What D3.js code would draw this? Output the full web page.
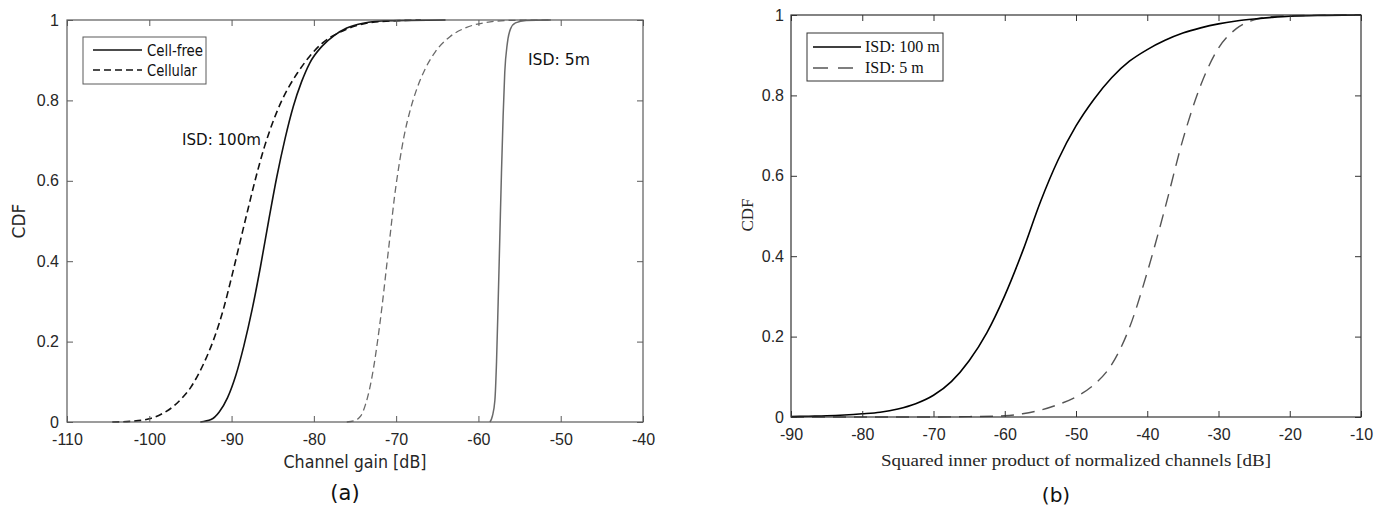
<!DOCTYPE html>
<html><head><meta charset="utf-8">
<script src="https://cdn.jsdelivr.net/npm/d3@7"></script>
<style>body{margin:0;background:#fff}svg{display:block}</style>
</head><body>
<svg id="chart" width="1375" height="508"></svg>
<script>
// ---------- DATA ----------
const leftXTicks = [-110, -100, -90, -80, -70, -60, -50, -40];
const rightXTicks = [-90, -80, -70, -60, -50, -40, -30, -20, -10];
const yTicks = [0, 0.2, 0.4, 0.6, 0.8, 1];

// Panel (a): channel gain CDFs  [dB, CDF]
const cellFree100 = [[-93.8,0],[-92.5,0.006],[-91.5,0.025],[-90.5,0.06],[-89.5,0.115],[-88.5,0.19],[-87.5,0.28],[-86.5,0.385],[-85.5,0.5],[-84.5,0.61],[-83.5,0.705],[-82.5,0.785],[-81.5,0.846],[-80.5,0.893],[-79,0.935],[-77.5,0.962],[-76,0.98],[-74,0.992],[-71,0.998],[-64,1.0]];
const cellular100 = [[-104.5,0],[-102,0.002],[-100,0.008],[-98.5,0.02],[-97,0.04],[-96,0.06],[-95,0.085],[-94,0.12],[-93,0.163],[-92,0.215],[-91,0.28],[-90,0.36],[-89,0.445],[-88,0.53],[-87,0.612],[-86,0.685],[-85,0.745],[-84,0.795],[-83,0.835],[-82,0.868],[-80.5,0.91],[-79,0.942],[-77,0.968],[-75,0.985],[-72,0.996],[-67,1.0]];
const cellular5 = [[-76,0],[-75,0.004],[-74.3,0.015],[-73.7,0.045],[-73.2,0.085],[-72.7,0.14],[-72.2,0.21],[-71.7,0.29],[-71.2,0.38],[-70.7,0.47],[-70.2,0.56],[-69.6,0.645],[-69,0.715],[-68.3,0.775],[-67.5,0.828],[-66.5,0.877],[-65.2,0.922],[-63.5,0.958],[-61.5,0.981],[-59,0.994],[-56,0.999],[-51.2,1.0]];
const cellFree5 = [[-58.6,0],[-58.3,0.015],[-58.0,0.054],[-57.8,0.15],[-57.6,0.3],[-57.4,0.46],[-57.2,0.62],[-57.0,0.76],[-56.8,0.87],[-56.5,0.94],[-56.1,0.978],[-55.5,0.993],[-54.2,0.999],[-51.2,1.0]];

// Panel (b): squared inner product CDFs  [dB, CDF]
const isd100 = [[-90,0.001],[-87.5,0.002],[-85,0.003],[-82.5,0.005],[-80,0.008],[-77.5,0.012],[-75,0.02],[-72.5,0.033],[-70,0.054],[-67.5,0.088],[-65,0.14],[-62.5,0.21],[-60,0.302],[-57.5,0.412],[-55,0.535],[-52.5,0.64],[-50,0.724],[-47.5,0.79],[-45,0.844],[-42.5,0.885],[-40,0.914],[-37.5,0.937],[-35,0.955],[-32.5,0.968],[-30,0.978],[-27.5,0.985],[-25,0.99],[-22.5,0.994],[-20,0.997],[-15,0.999],[-10,1.0]];
const isd5 = [[-90,0],[-70,0.0],[-65,0.001],[-60,0.003],[-57.5,0.008],[-55,0.017],[-52.5,0.031],[-50,0.05],[-47.5,0.08],[-45,0.13],[-42.5,0.222],[-40,0.36],[-37.5,0.52],[-35,0.69],[-32.5,0.825],[-30,0.918],[-27.5,0.966],[-25,0.988],[-22.5,0.996],[-20,0.998],[-15,0.9995],[-10,1.0]];

// ---------- DRAW ----------
const svg = d3.select("#chart");
const sansA = "DejaVu Sans";
const sansTick = "Liberation Sans";
const serif = "Liberation Serif";

function panel(opt) {
  const x = d3.scaleLinear().domain(opt.xDomain).range([opt.x0, opt.x1]);
  const y = d3.scaleLinear().domain([0, 1]).range([opt.y1, opt.y0]);
  const g = svg.append("g");
  const axisColor = opt.axisColor;

  const styleAxis = sel => {
    sel.select(".domain").remove();
    sel.selectAll(".tick line").attr("stroke", axisColor).attr("stroke-width", 1);
    sel.selectAll(".tick text").attr("fill", "#262626").style("font-family", sansTick).style("font-size", "16px");
  };

  const line = d3.line().x(d => x(d[0])).y(d => y(d[1])).curve(d3.curveMonotoneX);
  opt.series.forEach(s => {
    g.append("path").datum(s.data).attr("d", line)
      .attr("fill", "none").attr("stroke", s.color).attr("stroke-width", s.width)
      .attr("stroke-dasharray", s.dash || null);
  });

  g.append("g").attr("transform", `translate(0,${opt.y1})`)
    .call(d3.axisBottom(x).tickValues(opt.xTicks).tickSize(-6).tickPadding(opt.xPad).tickFormat(d => String(d)))
    .call(styleAxis);
  g.append("g").attr("transform", `translate(0,${opt.y0})`)
    .call(d3.axisTop(x).tickValues(opt.xTicks).tickSize(-6).tickFormat(""))
    .call(styleAxis);
  g.append("g").attr("transform", `translate(${opt.x0},0)`)
    .call(d3.axisLeft(y).tickValues(yTicks).tickSize(-6).tickPadding(opt.yPad).tickFormat(d => d === 0 || d === 1 ? String(d) : d3.format(".1f")(d)))
    .call(styleAxis);
  g.append("g").attr("transform", `translate(${opt.x1},0)`)
    .call(d3.axisRight(y).tickValues(yTicks).tickSize(-6).tickFormat(""))
    .call(styleAxis);

  g.append("rect").attr("x", opt.x0).attr("y", opt.y0)
    .attr("width", opt.x1 - opt.x0).attr("height", opt.y1 - opt.y0)
    .attr("fill", "none").attr("stroke", axisColor).attr("stroke-width", 1.2);
  return {g, x, y};
}

// Panel (a)
const pa = panel({
  xDomain: [-110, -40], x0: 67, x1: 643, y0: 20, y1: 422,
  xTicks: leftXTicks, xPad: 12, yPad: 8, axisColor: "#5a5a5a",
  series: [
    {data: cellular5, color: "#6a6a6a", width: 1.3, dash: "7,4"},
    {data: cellFree5, color: "#6a6a6a", width: 1.5},
    {data: cellular100, color: "#111", width: 1.6, dash: "7,4"},
    {data: cellFree100, color: "#111", width: 1.6}
  ]
});

pa.g.append("rect").attr("x", 83).attr("y", 37).attr("width", 123).attr("height", 47)
  .attr("fill", "#fff").attr("stroke", "#5a5a5a").attr("stroke-width", 1);
[["Cell-free", null, 50, 56], ["Cellular", "7,4", 70, 50]].forEach(([t, dash, yy, w]) => {
  pa.g.append("line").attr("x1", 93).attr("x2", 142).attr("y1", yy).attr("y2", yy)
    .attr("stroke", "#111").attr("stroke-width", 1.6).attr("stroke-dasharray", dash);
  pa.g.append("text").attr("x", 147).attr("y", yy + 5.5).text(t)
    .attr("textLength", w).attr("lengthAdjust", "spacingAndGlyphs")
    .style("font-family", sansA).style("font-size", "16px").attr("fill", "#111");
});

pa.g.append("text").attr("x", 182).attr("y", 145).text("ISD: 100m")
  .attr("textLength", 79).attr("lengthAdjust", "spacingAndGlyphs")
  .style("font-family", sansA).style("font-size", "16px").attr("fill", "#111");
pa.g.append("text").attr("x", 528).attr("y", 65).text("ISD: 5m")
  .attr("textLength", 62).attr("lengthAdjust", "spacingAndGlyphs")
  .style("font-family", sansA).style("font-size", "16px").attr("fill", "#111");

pa.g.append("text").attr("transform", "translate(25,221) rotate(-90)").attr("text-anchor", "middle")
  .text("CDF").style("font-family", sansA).style("font-size", "17px").attr("fill", "#262626");
pa.g.append("text").attr("x", 355).attr("y", 468).attr("text-anchor", "middle").text("Channel gain [dB]")
  .attr("textLength", 143).attr("lengthAdjust", "spacingAndGlyphs")
  .style("font-family", sansA).style("font-size", "17px").attr("fill", "#262626");
pa.g.append("text").attr("x", 345).attr("y", 500).attr("text-anchor", "middle").text("(a)")
  .style("font-family", sansA).style("font-size", "21px").attr("fill", "#111");

// Panel (b)
const pb = panel({
  xDomain: [-90, -10], x0: 791, x1: 1361, y0: 15, y1: 417,
  xTicks: rightXTicks, xPad: 12, yPad: 7, axisColor: "#333",
  series: [
    {data: isd5, color: "#555", width: 1.4, dash: "13,8"},
    {data: isd100, color: "#000", width: 1.6}
  ]
});

pb.g.append("rect").attr("x", 807).attr("y", 33).attr("width", 136).attr("height", 48)
  .attr("fill", "#fff").attr("stroke", "#333").attr("stroke-width", 1);
[["ISD: 100 m", null, 47, "#000"], ["ISD: 5 m", "15,10", 68, "#555"]].forEach(([t, dash, yy, c]) => {
  pb.g.append("line").attr("x1", 813).attr("x2", 861).attr("y1", yy).attr("y2", yy)
    .attr("stroke", c).attr("stroke-width", 1.6).attr("stroke-dasharray", dash);
  pb.g.append("text").attr("x", 865).attr("y", yy + 5).text(t)
    .style("font-family", serif).style("font-size", "16px").attr("fill", "#111");
});

pb.g.append("text").attr("transform", "translate(753,215) rotate(-90)").attr("text-anchor", "middle")
  .text("CDF").style("font-family", serif).style("font-size", "17px").attr("fill", "#262626");
pb.g.append("text").attr("x", 1076).attr("y", 466).attr("text-anchor", "middle")
  .text("Squared inner product of normalized channels [dB]")
  .attr("textLength", 390).attr("lengthAdjust", "spacingAndGlyphs")
  .style("font-family", serif).style("font-size", "17px").attr("fill", "#262626");
pb.g.append("text").attr("x", 1056).attr("y", 502).attr("text-anchor", "middle").text("(b)")
  .style("font-family", sansA).style("font-size", "20px").attr("fill", "#111");
</script>
</body></html>
